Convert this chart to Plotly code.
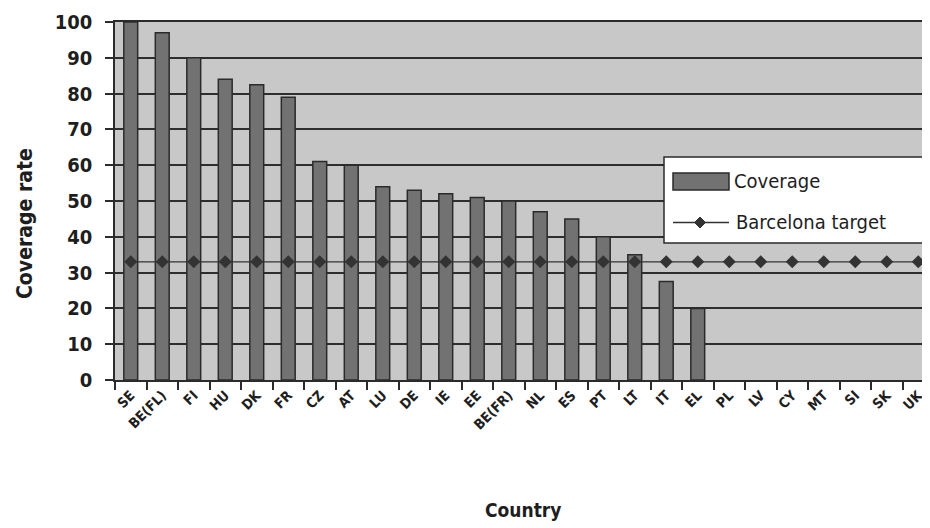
import plotly.graph_objects as go

countries = ["SE", "BE(FL)", "FI", "HU", "DK", "FR", "CZ", "AT", "LU", "DE", "IE", "EE",
             "BE(FR)", "NL", "ES", "PT", "LT", "IT", "EL", "PL", "LV", "CY", "MT", "SI", "SK", "UK"]
coverage = [100, 97, 90, 84, 82.5, 79, 61, 60, 54, 53, 52, 51,
            50, 47, 45, 40, 35, 27.5, 20, None, None, None, None, None, None, None]
target = [33] * len(countries)
y_ticks = [0, 10, 20, 30, 40, 50, 60, 70, 80, 90, 100]

FONT = "DejaVu Sans Condensed, Liberation Sans Narrow, sans-serif"
DARK = "#2b2b2b"
TXT = "#1e1e1e"

fig = go.Figure()
fig.add_trace(go.Bar(
    x=countries, y=coverage, name="Coverage", width=0.44,
    marker=dict(color="#727272", line=dict(color=DARK, width=1.5)),
    showlegend=False,
))
fig.add_trace(go.Scatter(
    x=countries, y=target, name="Barcelona target", mode="lines+markers",
    line=dict(color="#333333", width=1.4),
    marker=dict(symbol="diamond", size=10, color="#333333"),
    showlegend=False,
))

OFF = 8                      # page offset of the figure inside the window
W, H = 930 - OFF, 528 - OFF
L, R, T, B = 107, 0, 14, 148
pw, ph = W - L - R, H - T - B
SL, SB = L + OFF, H - B + OFF  # screen left / bottom of the plot area

def px(x):
    return (x - SL) / pw

def py(y):
    return (SB - y) / ph

fig.update_layout(
    width=W, height=H,
    margin=dict(l=L, r=R, t=T, b=B),
    paper_bgcolor="white",
    plot_bgcolor="#c8c8c8",
    font=dict(family=FONT, color=TXT),
)
fig.update_xaxes(
    type="category",
    range=[-0.5, -0.5 + pw / 31.5],
    tickson="boundaries",
    ticks="outside", ticklen=8, tickwidth=1.5, tickcolor=DARK,
    tickangle=-45,
    tickfont=dict(family=FONT, size=14, weight="bold", color=TXT),
    showline=True, linecolor=DARK, linewidth=1.5, mirror=True,
    showgrid=False,
)
fig.update_yaxes(
    range=[0, 100],
    tickvals=y_ticks,
    ticks="outside", ticklen=8, tickwidth=1.5, tickcolor=DARK,
    tickfont=dict(family=FONT, size=20, weight="bold", color=TXT),
    ticklabelstandoff=9,
    showline=True, linecolor=DARK, linewidth=1.5,
    showgrid=True, gridcolor="#2e2e2e", gridwidth=1.5,
    zeroline=False,
)

# axis titles
fig.add_annotation(text="Coverage rate", xref="paper", yref="paper",
                   x=px(25), y=py(224), xanchor="center", yanchor="middle",
                   textangle=-90, showarrow=False,
                   font=dict(family=FONT, size=21, weight="bold", color=TXT))
fig.add_annotation(text="Country", xref="paper", yref="paper",
                   x=px(523), y=py(510), xanchor="center", yanchor="middle",
                   showarrow=False,
                   font=dict(family=FONT, size=19, weight="bold", color=TXT))

# legend box
fig.add_shape(type="rect", xref="paper", yref="paper",
              x0=px(664), x1=px(945), y0=py(243), y1=py(157),
              fillcolor="white", line=dict(color=DARK, width=1.5), layer="above")
fig.add_shape(type="rect", xref="paper", yref="paper",
              x0=px(673), x1=px(729), y0=py(190), y1=py(173),
              fillcolor="#727272", line=dict(color=DARK, width=1.5), layer="above")
fig.add_shape(type="line", xref="paper", yref="paper",
              x0=px(673), x1=px(729), y0=py(222.5), y1=py(222.5),
              line=dict(color="#333333", width=1.4), layer="above")
cx, cy, d = 700, 222.5, 5.5
fig.add_shape(type="path", xref="paper", yref="paper",
              path=f"M {px(cx - d)},{py(cy)} L {px(cx)},{py(cy - d)} L {px(cx + d)},{py(cy)} L {px(cx)},{py(cy + d)} Z",
              fillcolor="#333333", line=dict(color="#333333", width=1), layer="above")
fig.add_annotation(text="Coverage", xref="paper", yref="paper",
                   x=px(732), y=py(181), xanchor="left", yanchor="middle", showarrow=False,
                   font=dict(family=FONT, size=20, color=TXT))
fig.add_annotation(text="Barcelona target", xref="paper", yref="paper",
                   x=px(734), y=py(222), xanchor="left", yanchor="middle", showarrow=False,
                   font=dict(family=FONT, size=20, color=TXT))

fig.write_html("out.html")
